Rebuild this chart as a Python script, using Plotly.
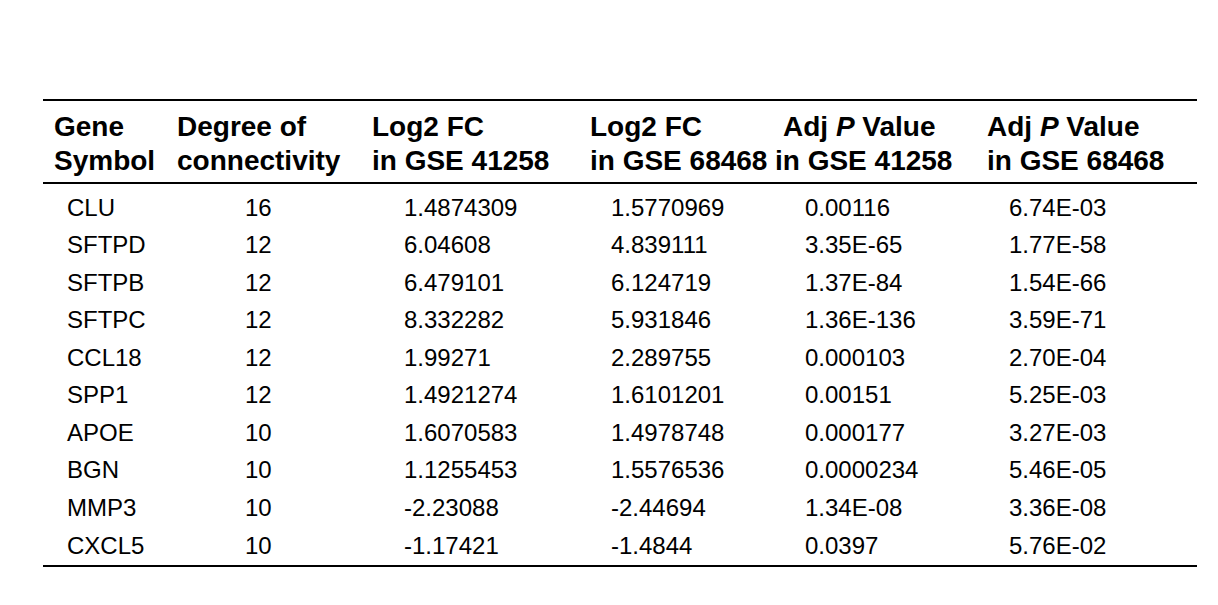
import plotly.graph_objects as go

header_top = ["Gene", "Degree of", "Log2 FC", "Log2 FC", "Adj <i>P</i> Value", "Adj <i>P</i> Value"]
header_bottom = ["Symbol", "connectivity", "in GSE 41258", "in GSE 68468", "in GSE 41258", "in GSE 68468"]

genes = ["CLU", "SFTPD", "SFTPB", "SFTPC", "CCL18", "SPP1", "APOE", "BGN", "MMP3", "CXCL5"]
degree = ["16", "12", "12", "12", "12", "12", "10", "10", "10", "10"]
fc_41258 = ["1.4874309", "6.04608", "6.479101", "8.332282", "1.99271", "1.4921274",
            "1.6070583", "1.1255453", "-2.23088", "-1.17421"]
fc_68468 = ["1.5770969", "4.839111", "6.124719", "5.931846", "2.289755", "1.6101201",
            "1.4978748", "1.5576536", "-2.44694", "-1.4844"]
p_41258 = ["0.00116", "3.35E-65", "1.37E-84", "1.36E-136", "0.000103", "0.00151",
           "0.000177", "0.0000234", "1.34E-08", "0.0397"]
p_68468 = ["6.74E-03", "1.77E-58", "1.54E-66", "3.59E-71", "2.70E-04", "5.25E-03",
           "3.27E-03", "5.46E-05", "3.36E-08", "5.76E-02"]

columns = [genes, degree, fc_41258, fc_68468, p_41258, p_68468]

font = "Liberation Sans, Arial, sans-serif"
head_x = [52, 175, 370, 588, 781, 985]
body_x = [65, 258, 402, 609, 803, 1007]
body_anchor = ["left", "center", "left", "left", "left", "left"]

fig = go.Figure()
fig.add_trace(go.Scatter(x=[0, 1218], y=[0, 605], mode="markers",
                         marker=dict(opacity=0), hoverinfo="skip", showlegend=False))

for i in range(6):
    fig.add_annotation(x=head_x[i], y=126, text="<b>%s</b>" % header_top[i],
                       xanchor="left", yanchor="middle", showarrow=False,
                       font=dict(family=font, size=28, color="black"))
    fig.add_annotation(x=head_x[i] if i != 4 else 773, y=160, text="<b>%s</b>" % header_bottom[i],
                       xanchor="left", yanchor="middle", showarrow=False,
                       font=dict(family=font, size=28, color="black"))

row_step = (545 - 207) / (len(genes) - 1)
for c, col in enumerate(columns):
    for r, val in enumerate(col):
        fig.add_annotation(x=body_x[c], y=207 + r * row_step, text=val,
                           xanchor=body_anchor[c], yanchor="middle", showarrow=False,
                           font=dict(family=font, size=24, color="black"))

for y in [100, 183, 566]:
    fig.add_shape(type="line", x0=43, x1=1197, y0=y, y1=y,
                  line=dict(color="black", width=2))

# offset ranges by the page's 8px body margin
fig.update_xaxes(visible=False, range=[8, 1226])
fig.update_yaxes(visible=False, range=[613, 8])
fig.update_layout(width=1218, height=605, margin=dict(l=0, r=0, t=0, b=0),
                  plot_bgcolor="white", paper_bgcolor="white")

fig.write_html("out.html")
